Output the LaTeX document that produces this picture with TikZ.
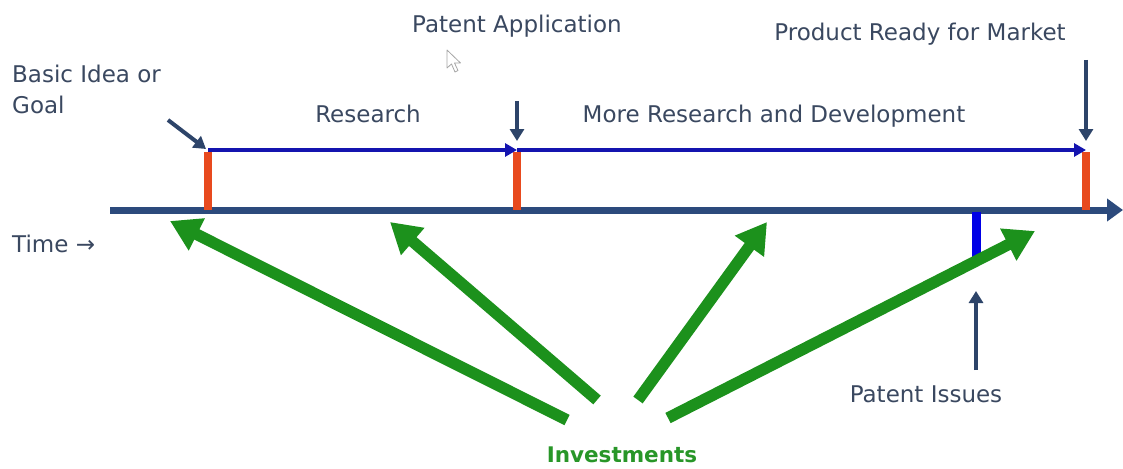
\documentclass[tikz,border=0pt]{standalone}
\usepackage{fontspec}
\setmainfont{DejaVu Sans}
\usetikzlibrary{arrows.meta}
\definecolor{txt}{RGB}{58,72,96}
\definecolor{axiscol}{RGB}{44,74,124}
\definecolor{darkarr}{RGB}{45,68,105}
\definecolor{redbar}{RGB}{232,74,30}
\definecolor{navyline}{RGB}{20,20,175}
\definecolor{issuecol}{RGB}{0,0,230}
\definecolor{grn}{RGB}{28,145,28}
\definecolor{grntxt}{RGB}{40,150,40}
\begin{document}
\begin{tikzpicture}[x=1pt,y=-1pt,
  lbl/.style={inner sep=0pt, text=txt, font=\fontsize{23}{31}\selectfont},
  axisline/.style={draw=axiscol, line width=7pt, -{Triangle[length=16pt,width=22pt]}},
  milestone/.style={draw=redbar, line width=8pt},
  phase/.style={draw=navyline, line width=4.5pt, -{Triangle[length=12pt,width=13pt]}},
  pointer/.style={draw=darkarr, line width=4pt, -{Triangle[length=12pt,width=14pt]}},
  issuebar/.style={draw=issuecol, line width=9pt},
  invest/.style={draw=grn, line width=11.5pt, -{Triangle[length=30pt,width=34pt]}}
]
\useasboundingbox (0,0) rectangle (1123,468);
\fill[white] (0,0) rectangle (1123,468);

% labels
\node[lbl, anchor=north west, align=left] (idea) at (12,64.5) {Basic Idea or\\Goal};
\node[lbl, anchor=base west] (time) at (12,252) {Time →};
\node[lbl, anchor=base] (research) at (368,122) {Research};
\node[lbl, anchor=base] (patapp) at (517,33) {Patent Application};
\node[lbl, anchor=base] (morerd) at (774,122) {More Research and Development};
\node[lbl, anchor=base] (ready) at (920,41) {Product Ready for Market};
\node[lbl, anchor=base] (issues) at (926,402) {Patent Issues};
\node[inner sep=0pt, anchor=base, text=grntxt, font=\fontsize{21.5}{26}\selectfont\bfseries] (inv) at (622,462) {Investments};

% coordinates
\coordinate (ax0) at (110,210);
\coordinate (ax1) at (1123,210);
\coordinate (m1) at (208,150);
\coordinate (m1b) at (208,210);
\coordinate (m2) at (517,150);
\coordinate (m2b) at (517,210);
\coordinate (m3) at (1086,150);
\coordinate (m3b) at (1086,210);
\coordinate (iss0) at (976,212);
\coordinate (iss1) at (976,257);

% timeline
\draw[axisline] (ax0) -- (ax1);
\draw[issuebar] (iss0) -- (iss1);
\draw[milestone] (208,152) -- (m1b);
\draw[milestone] (517,152) -- (m2b);
\draw[milestone] (1086,152) -- (m3b);
\draw[phase] (m1) -- (m2);
\draw[phase] (m2) -- (m3);

% pointers
\coordinate (p1s) at (168,120);
\coordinate (p1e) at (206,149);
\coordinate (p2s) at (517,101);
\coordinate (p2e) at (517,141);
\coordinate (p3s) at (1086,60);
\coordinate (p3e) at (1086,141);
\coordinate (p4s) at (976,370);
\coordinate (p4e) at (976,291);
\draw[pointer] (p1s) -- (p1e);
\draw[pointer] (p2s) -- (p2e);
\draw[pointer] (p3s) -- (p3e);
\draw[pointer] (p4s) -- (p4e);

% investments
\coordinate (g1s) at (567,420);
\coordinate (g1e) at (170,221);
\coordinate (g2s) at (597,400);
\coordinate (g2e) at (390,222);
\coordinate (g3s) at (638,400);
\coordinate (g3e) at (767,222);
\coordinate (g4s) at (668,418);
\coordinate (g4e) at (1035,231);
\draw[invest] (g1s) -- (g1e);
\draw[invest] (g2s) -- (g2e);
\draw[invest] (g3s) -- (g3e);
\draw[invest] (g4s) -- (g4e);

% mouse cursor
\draw[gray!70, line width=0.8pt, fill=white, line join=round]
  (447,50) -- (447,68) -- (451.5,64) -- (455,72) -- (458,70.5) -- (454.5,63) -- (460.5,63) -- cycle;
\end{tikzpicture}
\end{document}
